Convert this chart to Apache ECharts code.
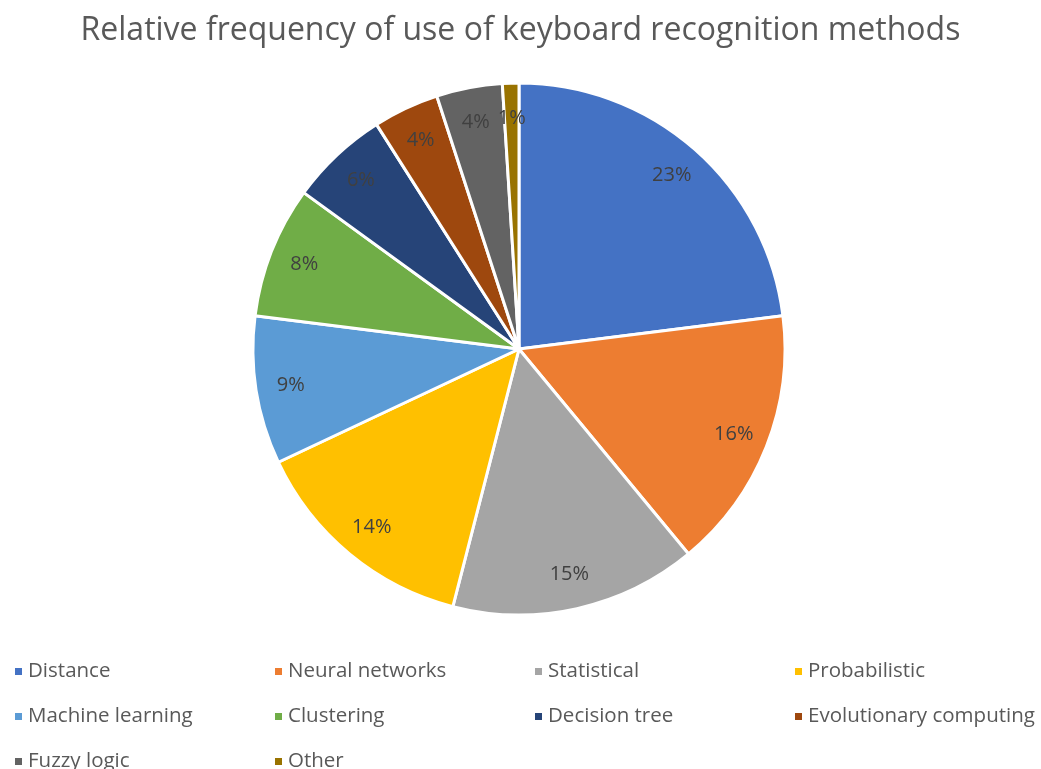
<!DOCTYPE html>
<html><head><meta charset="utf-8">
<script src="https://cdn.jsdelivr.net/npm/echarts@6/dist/echarts.min.js"></script>
<style>html,body{margin:0;padding:0;background:#fff}#c{width:1041px;height:769px}</style>
</head><body><div id="c"></div>
<script>
const categories = ["Distance","Neural networks","Statistical","Probabilistic","Machine learning","Clustering","Decision tree","Evolutionary computing","Fuzzy logic","Other"];
const values = [23,16,15,14,9,8,6,4,4,1];
const colors = ["#4472C4","#ED7D31","#A5A5A5","#FFC000","#5B9BD5","#70AD47","#264478","#9E480E","#636363","#997300"];
const title = "Relative frequency of use of keyboard recognition methods";

const data = categories.map((n,i)=>({name:n,value:values[i],itemStyle:{color:colors[i]}}));
const chart = echarts.init(document.getElementById('c'));
chart.setOption({
  animation:false,
  title:{text:title,left:'center',top:10,textStyle:{fontFamily:'Open Sans',fontSize:32,fontWeight:'normal',color:'#595959'}},
  legend:{
    data:categories, left:8, top:644, width:1041, orient:'horizontal',
    icon:'rect', itemWidth:9, itemHeight:9, itemGap:0,
    textStyle:{fontFamily:'Open Sans',fontSize:20.5,color:'#595959',width:245,lineHeight:45}
  },
  series:[
    {type:'pie',center:[519,349],radius:[0,266],startAngle:90,clockwise:true,
     data:data,label:{show:false},labelLine:{show:false},
     itemStyle:{borderColor:'#fff',borderWidth:3},emphasis:{disabled:true}},
    {type:'pie',center:[519,349],radius:[190,266],startAngle:90,clockwise:true,silent:true,
     data:categories.map((n,i)=>({name:n,value:values[i]})),
     itemStyle:{color:'rgba(0,0,0,0)'},
     label:{show:true,position:'inside',formatter:'{c}%',fontFamily:'Open Sans',fontSize:20,color:'#404040'},
     labelLine:{show:false},emphasis:{disabled:true},legendHoverLink:false}
  ]
});
</script></body></html>
